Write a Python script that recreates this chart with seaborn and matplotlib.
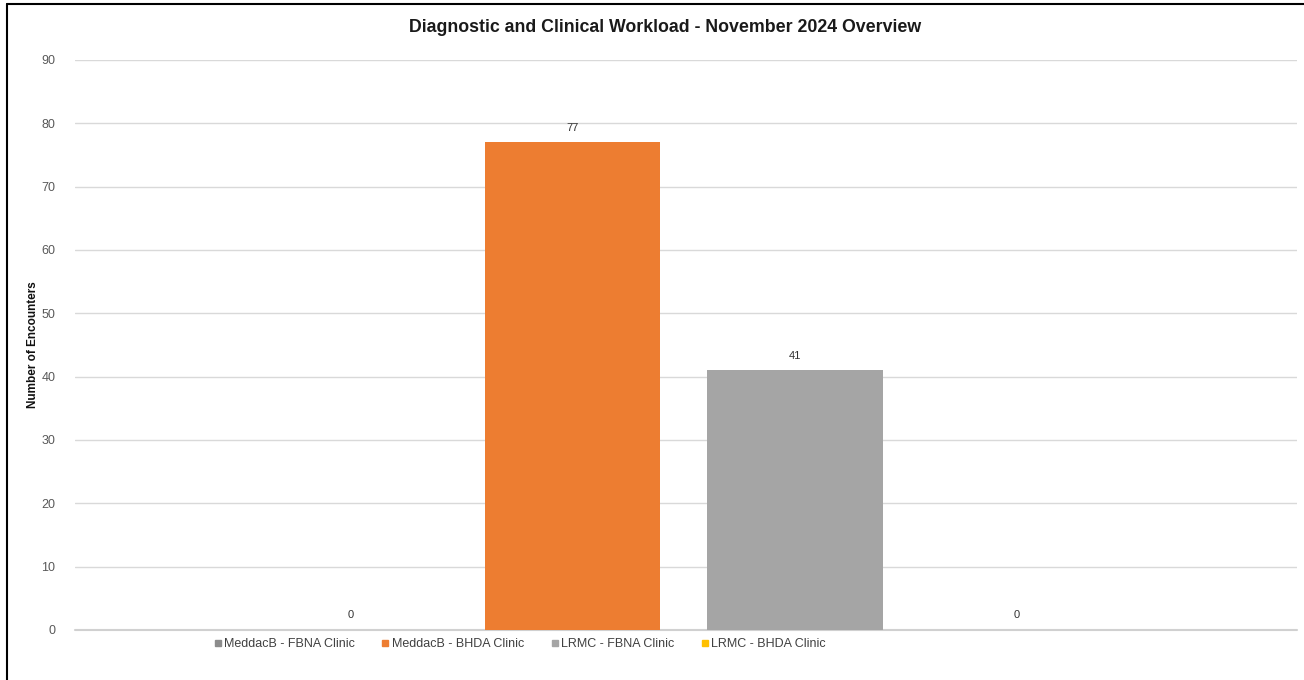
import matplotlib
matplotlib.use("Agg")
import matplotlib.pyplot as plt
from matplotlib.lines import Line2D
import pandas as pd
import seaborn as sns

# chart data
series = ["MeddacB - FBNA Clinic", "MeddacB - BHDA Clinic",
          "LRMC - FBNA Clinic", "LRMC - BHDA Clinic"]
encounters = [0, 77, 41, 0]
colors = ["#8C8C8C", "#ED7D31", "#A5A5A5", "#FFC000"]
yticks = [0, 10, 20, 30, 40, 50, 60, 70, 80, 90]
title = "Diagnostic and Clinical Workload - November 2024 Overview"
ylabel = "Number of Encounters"

sns.set_theme(style="white")
plt.rcParams["font.family"] = ["Liberation Sans", "DejaVu Sans"]

W, H = 1304, 680
fig = plt.figure(figsize=(W / 100, H / 100), dpi=100)
ax = fig.add_axes([75 / W, 50 / H, (1297 - 75) / W, (630 - 60) / H])

df = pd.DataFrame({"series": series, "encounters": encounters})
sns.barplot(data=df, x="series", y="encounters", hue="series",
            palette=colors, width=0.79, legend=False, ax=ax,
            saturation=1, linewidth=0)

for c in ax.containers:
    ax.bar_label(c, fmt="%d", padding=7, fontsize=8, color="#333333")

ax.set_xlim(-1.24, 4.26)
ax.set_ylim(0, 90)
ax.set_yticks(yticks)
ax.yaxis.grid(True, color="#D9D9D9", lw=1)
ax.set_axisbelow(True)
ax.set_xticks([])
ax.set_xlabel("")
ax.set_ylabel(ylabel, fontsize=8.5, fontweight="bold", color="#111111", labelpad=2)
ax.tick_params(axis="y", length=0, labelsize=9, labelcolor="#595959", pad=14)
for s in ax.spines.values():
    s.set_visible(False)
ax.axhline(0, color="#D0D0D0", lw=1.5, zorder=0, clip_on=False)

fig.text(665 / W, 1 - 28 / H, title, ha="center", va="center",
         fontsize=12.8, fontweight="bold", color="#1a1a1a")

handles = [Line2D([], [], marker="s", ls="", color=c, markersize=4) for c in colors]
fig.legend(handles, series, loc="center", bbox_to_anchor=(520 / W, 1 - 644 / H),
           ncol=4, frameon=False, fontsize=9, handlelength=0.5,
           handletextpad=0.25, columnspacing=2.2, labelcolor="#404040")

# outer frame
fig.add_artist(Line2D([7 / W, 1], [1 - 4 / H, 1 - 4 / H], color="black", lw=1.5))
fig.add_artist(Line2D([7 / W, 7 / W], [0, 1 - 4 / H], color="black", lw=1.5))

fig.savefig("out.png", dpi=100)
